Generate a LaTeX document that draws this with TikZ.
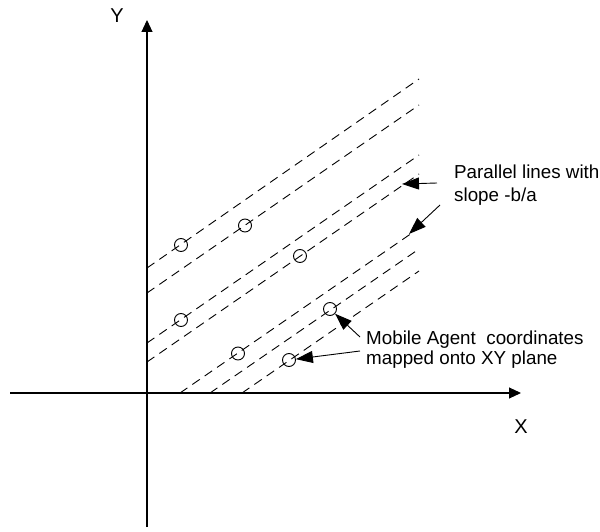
\documentclass[tikz,border=0pt]{standalone}
\usepackage{fontspec}
\setmainfont{Liberation Sans}
\usetikzlibrary{arrows.meta}
\begin{document}
\begin{tikzpicture}[x=1pt,y=-1pt,
  axis/.style={line width=1.1pt,-{Triangle[length=12pt,width=11pt]}},
  parline/.style={line width=0.9pt,dash pattern=on 9pt off 6pt},
  agent/.style={circle,draw,line width=0.9pt,minimum size=13pt,inner sep=0pt},
  pointer/.style={line width=0.9pt,-{Triangle[length=17pt,width=12pt]}},
  lbl/.style={inner sep=0pt,align=left,anchor=north west},
  axlbl/.style={inner sep=0pt,font=\fontsize{20}{24}\selectfont}]
\useasboundingbox (0,0) rectangle (600,532);
% axes
\coordinate (xs) at (10,393);
\coordinate (xe) at (521,393);
\coordinate (ys) at (147,527);
\coordinate (ye) at (147,20);
\draw[axis] (xs) -- (xe);
\draw[axis] (ys) -- (ye);
\node[axlbl] (ylab) at (117,15.5) {Y};
\node[axlbl] (xlab) at (521,427) {X};
% parallel lines
\coordinate (a1) at (147,268); \coordinate (b1) at (419,79);
\coordinate (a2) at (147,293); \coordinate (b2) at (419,105);
\coordinate (a3) at (147,343); \coordinate (b3) at (419,155);
\coordinate (a4) at (147,362); \coordinate (b4) at (419,174);
\coordinate (a5) at (180,393); \coordinate (b5) at (412,233);
\coordinate (a6) at (210,393); \coordinate (b6) at (419,249);
\coordinate (a7) at (242,393); \coordinate (b7) at (419,271);
\foreach \i in {1,...,7} \draw[parline] (a\i) -- (b\i);
% agents
\node[agent] (c1) at (181,245) {};
\node[agent] (c2) at (245,225.5) {};
\node[agent] (c3) at (300,256) {};
\node[agent] (c4) at (181,320) {};
\node[agent] (c5) at (238,353.5) {};
\node[agent] (c6) at (330,309) {};
\node[agent] (c7) at (289,360) {};
% labels
\node[lbl,font=\fontsize{18.8}{23}\selectfont] (plabel) at (454,164.5) {Parallel lines with\\slope -b/a};
\node[lbl,font=\fontsize{18.8}{20}\selectfont] (mlabel) at (366,331) {Mobile Agent\ \ coordinates\\mapped onto XY plane};
% pointers
\coordinate (t1) at (437,183);
\coordinate (h1) at (402,184);
\coordinate (t2) at (440,205);
\coordinate (h2) at (409,234);
\coordinate (t3) at (360,337);
\coordinate (t4) at (360,351);
\draw[pointer] (t1) -- (h1);
\draw[pointer] (t2) -- (h2);
\draw[pointer] (t3) -- (c6);
\draw[pointer] (t4) -- (c7);
\end{tikzpicture}
\end{document}
